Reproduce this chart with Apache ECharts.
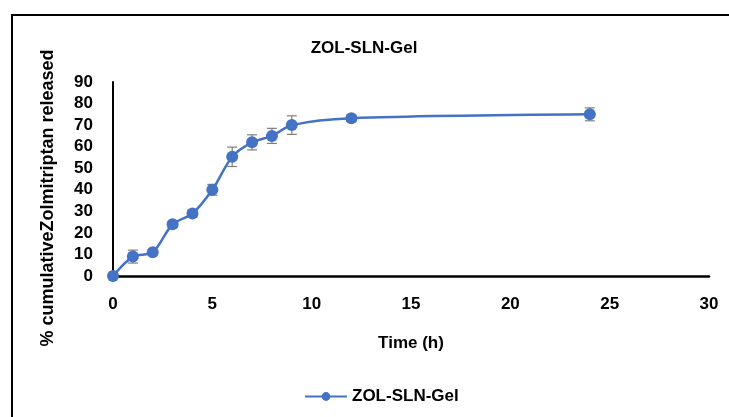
<!DOCTYPE html>
<html>
<head>
<meta charset="utf-8">
<script src="https://cdn.jsdelivr.net/npm/echarts@6/dist/echarts.min.js"></script>
<style>
html, body { margin: 0; padding: 0; background: #fff; }
#chart { width: 729px; height: 417px; }
</style>
</head>
<body>
<div id="chart"></div>
<script>
var times = [0, 1, 2, 3, 4, 5, 6, 7, 8, 9, 12, 24];
var released = [0, 9, 11, 24, 29, 40, 55.3, 62, 65, 70, 73.2, 75];
var errors = [0, 3, 1, 1.5, 1.5, 2.5, 4.5, 3.5, 3.5, 4.3, 1.5, 3];
var seriesName = 'ZOL-SLN-Gel';

var chart = echarts.init(document.getElementById('chart'));

var lineData = times.map(function (t, i) { return [t, released[i]]; });
var errData = times.map(function (t, i) {
    return [t, released[i] - errors[i], released[i] + errors[i]];
});

var font = 'Arial, "Liberation Sans", sans-serif';

option = {
    animation: false,
    title: {
        text: 'ZOL-SLN-Gel',
        left: 359,
        top: 35,
        textAlign: 'center',
        textStyle: { fontFamily: font, fontSize: 17, fontWeight: 'bold', color: '#000' }
    },
    legend: {
        data: [seriesName],
        left: 299,
        top: 383,
        itemWidth: 42,
        itemHeight: 11,
        textStyle: { fontFamily: font, fontSize: 17, fontWeight: 'bold', color: '#000' }
    },
    grid: { left: 113, right: 20, top: 82, bottom: 141 },
    xAxis: {
        type: 'value',
        min: 0,
        max: 30,
        interval: 5,
        name: 'Time (h)',
        nameLocation: 'middle',
        nameGap: 59,
        nameTextStyle: { fontFamily: font, fontSize: 17, fontWeight: 'bold', color: '#000' },
        axisLine: { lineStyle: { color: '#000', width: 2.5 } },
        axisTick: { show: false },
        splitLine: { show: false },
        axisLabel: { margin: 20, fontFamily: font, fontSize: 17, fontWeight: 'bold', color: '#000' }
    },
    yAxis: {
        type: 'value',
        min: 0,
        max: 90,
        interval: 10,
        name: '% cumulativeZolmitriptan released',
        nameLocation: 'middle',
        nameGap: 56,
        nameTextStyle: { fontFamily: font, fontSize: 18, fontWeight: 'bold', color: '#000', padding: [0, 38, 0, 0] },
        axisLine: { show: true, lineStyle: { color: '#000', width: 2 } },
        axisTick: { show: false },
        splitLine: { show: false },
        axisLabel: { margin: 20, fontFamily: font, fontSize: 17, fontWeight: 'bold', color: '#000' }
    },
    graphic: [{
        type: 'rect',
        shape: { x: 12, y: 15, width: 740, height: 430 },
        style: { fill: null, stroke: '#000', lineWidth: 2 },
        silent: true
    }],
    series: [
        {
            name: seriesName,
            type: 'line',
            smooth: 0.3,
            data: lineData,
            symbol: 'circle',
            symbolSize: 12,
            itemStyle: { color: '#4472C4' },
            lineStyle: { color: '#4472C4', width: 2.5 },
            z: 3
        },
        {
            name: 'err',
            type: 'custom',
            data: errData,
            z: 2,
            renderItem: function (params, api) {
                var x = api.value(0);
                var lo = api.coord([x, api.value(1)]);
                var hi = api.coord([x, api.value(2)]);
                var w = 5;
                var st = { stroke: '#7f7f7f', lineWidth: 1.2 };
                return {
                    type: 'group',
                    children: [
                        { type: 'line', shape: { x1: lo[0], y1: lo[1], x2: hi[0], y2: hi[1] }, style: st },
                        { type: 'line', shape: { x1: lo[0] - w, y1: lo[1], x2: lo[0] + w, y2: lo[1] }, style: st },
                        { type: 'line', shape: { x1: hi[0] - w, y1: hi[1], x2: hi[0] + w, y2: hi[1] }, style: st }
                    ]
                };
            }
        }
    ]
};
chart.setOption(option);
</script>
</body>
</html>
